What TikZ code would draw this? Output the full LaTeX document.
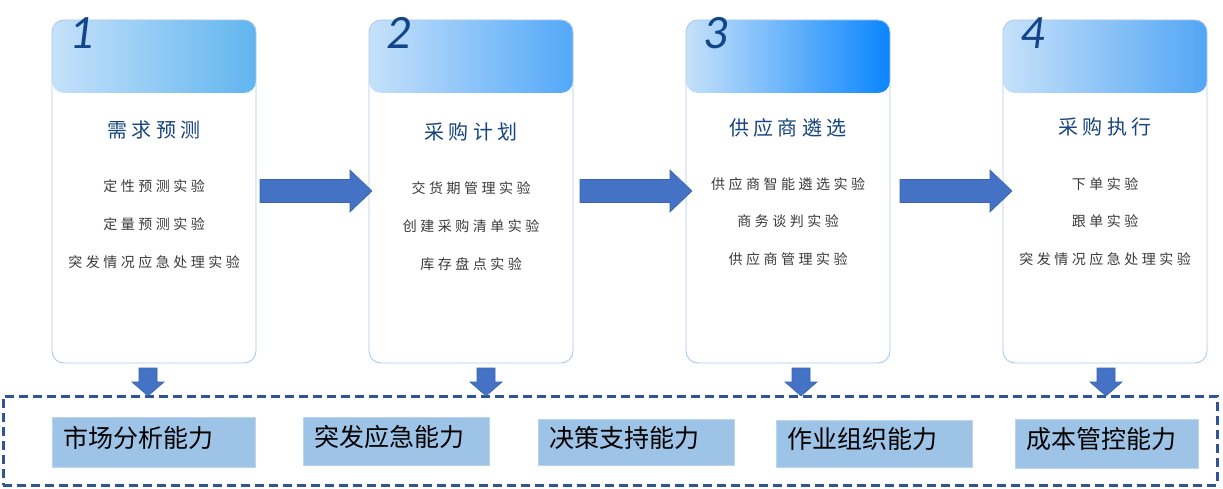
\documentclass[tikz,border=0pt]{standalone}
\usepackage{fontspec}
\newfontfamily\cjk{Noto Sans CJK SC}
\newfontfamily\cjktitle[LetterSpace=22]{Noto Sans CJK SC}
\newfontfamily\cjkitem[LetterSpace=25]{Noto Sans CJK SC}
\newfontfamily\numfont{Carlito}
\definecolor{arrowblue}{HTML}{4472C4}
\definecolor{arrowedge}{HTML}{3A64AE}
\definecolor{titleblue}{HTML}{17467F}
\definecolor{numblue}{HTML}{124589}
\definecolor{itemgray}{HTML}{3A3A3A}
\definecolor{cardedge}{HTML}{ABCAEC}
\definecolor{skillfill}{HTML}{9DC3E6}
\definecolor{skilledge}{HTML}{BCD5EE}
\definecolor{dashblue}{HTML}{2F5597}
\definecolor{hleft}{HTML}{C6E1FA}
\definecolor{hrightA}{HTML}{60B5EF}
\definecolor{hrightB}{HTML}{52A8F8}
\definecolor{hrightC}{HTML}{0A86FC}
\definecolor{hrightD}{HTML}{52A6F5}
\begin{document}
\begin{tikzpicture}[x=1pt,y=-1pt,
  card/.style={draw=cardedge, line width=0.9pt, fill=white, rounded corners=12pt,
    minimum width=204pt, minimum height=343pt, inner sep=0pt,
    path picture={\shade[left color=hleft, right color=#1]
      (path picture bounding box.north west) rectangle
      ([yshift=-73pt]path picture bounding box.north east);}},
  numlabel/.style={inner sep=0pt, text=numblue, font=\numfont\itshape\fontsize{48pt}{48pt}\selectfont},
  cardtitle/.style={inner sep=0pt, text=titleblue, font=\cjktitle\fontsize{20pt}{22pt}\selectfont},
  carditem/.style={inner sep=0pt, text=itemgray, font=\cjkitem\fontsize{14pt}{16pt}\selectfont},
  blockarrow/.style={fill=arrowblue, draw=arrowedge, line width=0.6pt},
  rightarrow/.pic={\path[blockarrow] (0,-11.5) -- (90,-11.5) -- (90,-21) -- (112,0)
      -- (90,21) -- (90,11.5) -- (0,11.5) -- cycle;},
  downarrow/.pic={\path[blockarrow] (-9,0) -- (9,0) -- (9,14) -- (16,14) -- (0,28)
      -- (-16,14) -- (-9,14) -- cycle;},
  skill/.style={fill=skillfill, draw=skilledge, line width=0.8pt, inner xsep=11pt,
    text width=#1, align=left, text height=18pt, text depth=8pt,
    font=\cjk\fontsize{25pt}{27pt}\selectfont, text=black},
  dashbox/.style={draw=dashblue, line width=3pt, dash pattern=on 9pt off 5pt,
    minimum width=1214pt, minimum height=89pt, inner sep=0pt}
]
\useasboundingbox (0,0) rectangle (1223,489);

% cards
\node[card=hrightA] (c1) at (154,191.5) {};
\node[card=hrightB] (c2) at (471,191.5) {};
\node[card=hrightC] (c3) at (788,191.5) {};
\node[card=hrightD] (c4) at (1105,191.5) {};

% numbers
\node[numlabel] (n1) at (82,33) {1};
\node[numlabel] (n2) at (399,33) {2};
\node[numlabel] (n3) at (716,33) {3};
\node[numlabel] (n4) at (1033,33) {4};

% titles
\node[cardtitle] (t1) at (154,130) {需求预测};
\node[cardtitle] (t2) at (471,132) {采购计划};
\node[cardtitle] (t3) at (788,128) {供应商遴选};
\node[cardtitle] (t4) at (1105,127) {采购执行};

% items
\node[carditem] (i11) at (154,186) {定性预测实验};
\node[carditem] (i12) at (154,224) {定量预测实验};
\node[carditem] (i13) at (154,262) {突发情况应急处理实验};
\node[carditem] (i21) at (471,188) {交货期管理实验};
\node[carditem] (i22) at (471,226) {创建采购清单实验};
\node[carditem] (i23) at (471,264) {库存盘点实验};
\node[carditem] (i31) at (788,184) {供应商智能遴选实验};
\node[carditem] (i32) at (788,221) {商务谈判实验};
\node[carditem] (i33) at (788,259) {供应商管理实验};
\node[carditem] (i41) at (1105,184) {下单实验};
\node[carditem] (i42) at (1105,221) {跟单实验};
\node[carditem] (i43) at (1105,259) {突发情况应急处理实验};

% right block arrows
\pic at (260,191) {rightarrow};
\pic at (580,191) {rightarrow};
\pic at (900,191) {rightarrow};

% dashed frame
\node[dashbox] (frame) at (610,440.5) {};

% down block arrows
\pic at (148,368) {downarrow};
\pic at (486,368) {downarrow};
\pic at (801,368) {downarrow};
\pic at (1106,368) {downarrow};

% skill boxes
\node[skill=181pt, minimum width=203pt, minimum height=50pt] (s1) at (153.5,442) {市场分析能力};
\node[skill=164pt, minimum width=186pt, minimum height=48pt] (s2) at (396,441) {突发应急能力};
\node[skill=174pt, minimum width=196pt, minimum height=46pt] (s3) at (636,442) {决策支持能力};
\node[skill=174pt, minimum width=196pt, minimum height=47pt] (s4) at (874,443.5) {作业组织能力};
\node[skill=161pt, minimum width=183pt, minimum height=49pt] (s5) at (1106.5,443.5) {成本管控能力};
\end{tikzpicture}
\end{document}
